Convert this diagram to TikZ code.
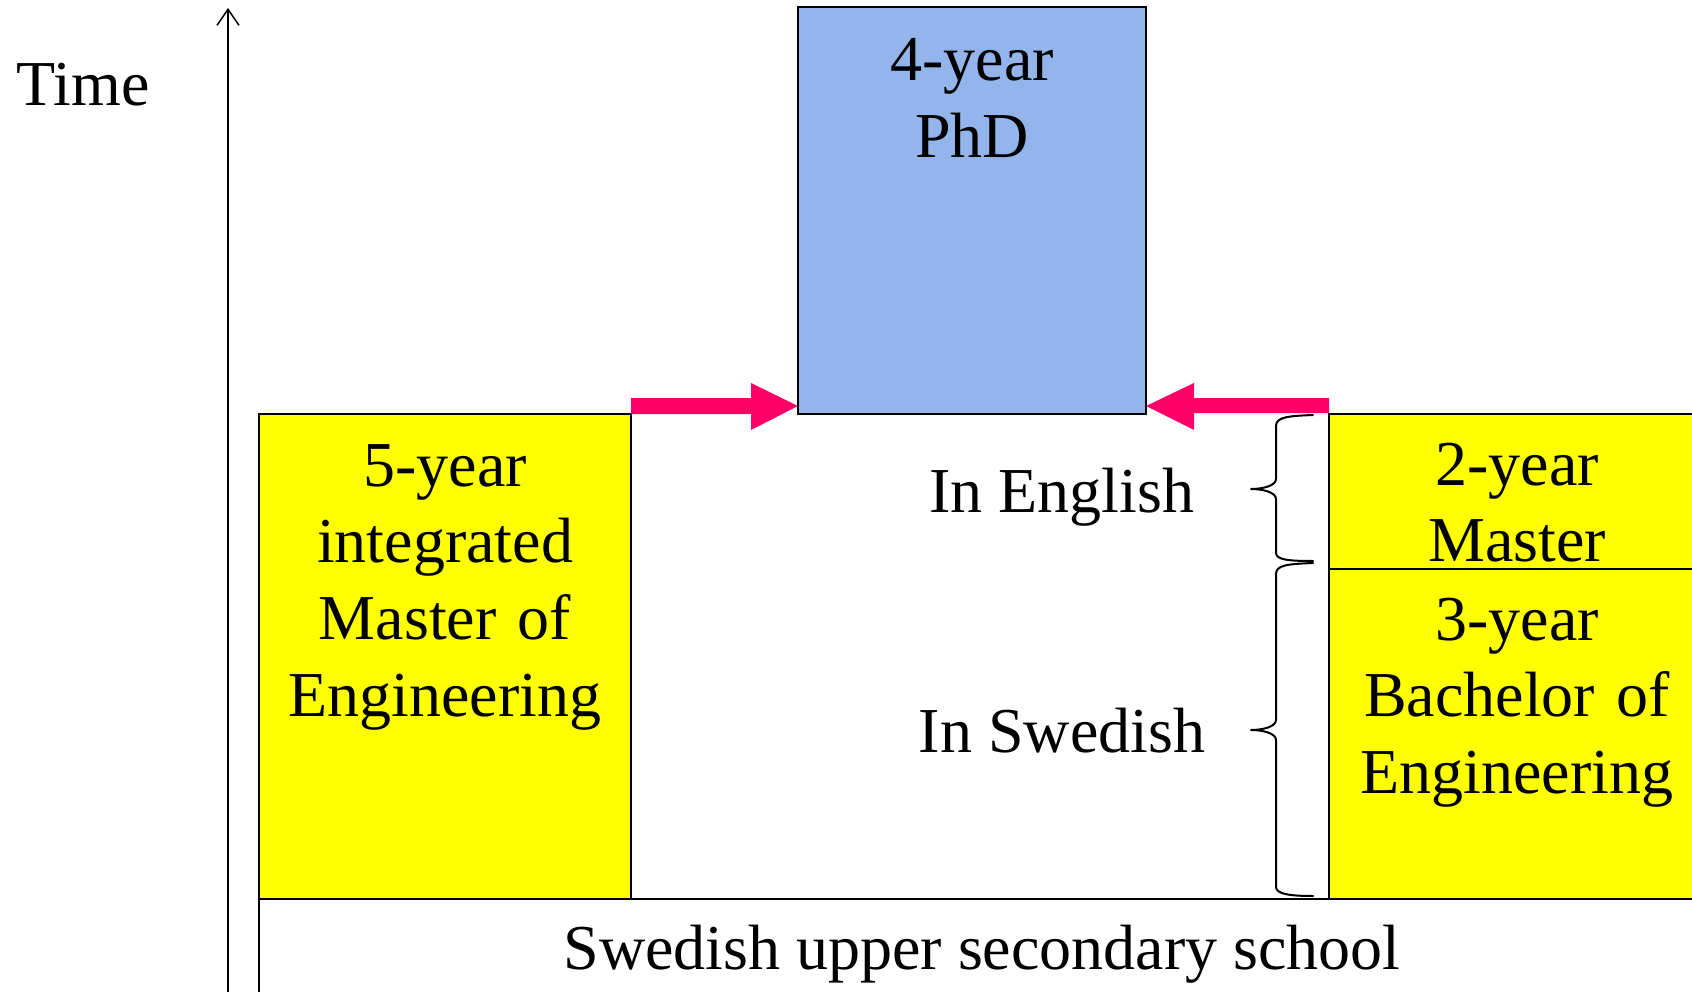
\documentclass[tikz,border=0pt]{standalone}
\usepackage{fontspec}
\setmainfont{Liberation Serif}
\usetikzlibrary{calc,arrows.meta}
\definecolor{phdblue}{RGB}{148,181,235}
\definecolor{arrowpink}{RGB}{255,0,102}
\definecolor{progyellow}{RGB}{255,255,0}
\begin{document}
\begin{tikzpicture}[x=1pt,y=-1pt,
  box/.style={draw=black,line width=2.2pt,inner sep=0pt,outer sep=0pt,rectangle},
  lbl/.style={font=\fontsize{64}{76.8}\selectfont,inner sep=0pt,outer sep=0pt,anchor=base,align=center},
  bracepath/.style={draw=black,line width=2pt,line join=round,line cap=round},
  pk/.style={fill=arrowpink}]
\clip (0,0) rectangle (1692,992);
% boxes
\node[box,fill=white,minimum width=1446pt,minimum height=111pt] (school) at (982,954.5) {};
\node[box,fill=phdblue,minimum width=348pt,minimum height=407pt] (phd) at (972,210.5) {};
\node[box,fill=progyellow,minimum width=372pt,minimum height=485pt] (m5) at (445,656.5) {};
\node[box,fill=progyellow,minimum width=376pt,minimum height=155pt] (m2) at (1517,491.5) {};
\node[box,fill=progyellow,minimum width=376pt,minimum height=330pt] (b3) at (1517,734) {};
% texts
\node[lbl,text width=340pt] (tphd) at (972,81) {4-year\\PhD};
\node[lbl,text width=370pt] (tm5) at (445,486) {5-year\\integrated\\Master of\\Engineering};
\node[lbl,text width=370pt] (tm2) at (1517,485) {2-year\\Master};
\node[lbl,text width=370pt] (tb3) at (1517,640) {3-year\\Bachelor of\\Engineering};
\node[lbl] (teng) at (1062,512) {In English};
\node[lbl] (tswe) at (1062,752) {In Swedish};
\node[lbl] (tschool) at (982,969) {Swedish upper secondary school};
\node[lbl] (ttime) at (83,106) {Time};
% time axis
\coordinate (axb) at (228,1000);
\coordinate (axt) at (228,8);
\draw[line width=1.5pt,-{Straight Barb[length=16pt,width=22pt,line width=1.5pt]}] (axb) -- (axt);
% pink arrows
\coordinate (a1s) at ($(m5.north east)+(0,-8)$);
\coordinate (a1e) at ($(phd.south west)+(0,-8)$);
\fill[pk] ($(a1s)+(0,-8)$) -- ($(a1e)+(-47,-8)$) -- ($(a1e)+(-47,-23)$) -- (a1e)
  -- ($(a1e)+(-47,24)$) -- ($(a1e)+(-47,8)$) -- ($(a1s)+(0,8)$) -- cycle;
\coordinate (a2s) at ($(m2.north west)+(0,-8)$);
\coordinate (a2e) at ($(phd.south east)+(0,-8)$);
\fill[pk] ($(a2s)+(0,-8)$) -- ($(a2e)+(48,-8)$) -- ($(a2e)+(48,-23)$) -- (a2e)
  -- ($(a2e)+(48,24)$) -- ($(a2e)+(48,7)$) -- ($(a2s)+(0,7)$) -- cycle;
% braces
\draw[bracepath] (1313,415) .. controls (1288,416) and (1276,417) .. (1276,426)
  -- (1276,479) .. controls (1276,486) and (1262,489) .. (1251,489)
  .. controls (1262,489) and (1276,492) .. (1276,499)
  -- (1276,553) .. controls (1276,560) and (1290,561) .. (1313,561);
\draw[bracepath] (1313,563) .. controls (1288,564) and (1276,565) .. (1276,574)
  -- (1276,720) .. controls (1276,727) and (1262,730) .. (1251,730)
  .. controls (1262,730) and (1276,733) .. (1276,740)
  -- (1276,887) .. controls (1276,894) and (1290,896) .. (1313,896);
\end{tikzpicture}
\end{document}
